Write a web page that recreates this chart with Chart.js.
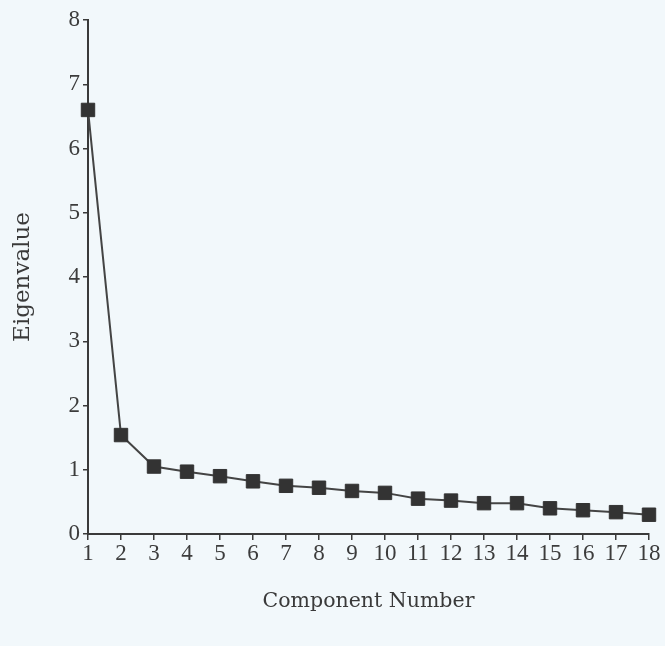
<!DOCTYPE html>
<html>
<head>
<meta charset="utf-8">
<script src="https://cdn.jsdelivr.net/npm/chart.js@4/dist/chart.umd.min.js"></script>
<style>
  html, body { margin: 0; padding: 0; background: #f2f8fb; }
  #wrap { width: 665px; height: 646px; }
</style>
</head>
<body>
<div id="wrap"><canvas id="c" width="665" height="646"></canvas></div>
<script>
const components = [1,2,3,4,5,6,7,8,9,10,11,12,13,14,15,16,17,18];
const eigenvalues = [6.6,1.54,1.05,0.97,0.9,0.82,0.75,0.72,0.67,0.64,0.55,0.52,0.48,0.48,0.4,0.37,0.34,0.3];
const yTicks = [0,1,2,3,4,5,6,7,8];
const xTitle = 'Component Number';
const yTitle = 'Eigenvalue';

const ink = '#3a3a3a';
const fontFam = '"Liberation Serif", "Times New Roman", serif';
const titleFam = '"DejaVu Serif", serif';

new Chart(document.getElementById('c'), {
  type: 'line',
  data: {
    datasets: [{
      data: components.map((c, i) => ({ x: c, y: eigenvalues[i] })),
      borderColor: '#444444',
      borderWidth: 2,
      pointStyle: 'rect',
      pointRadius: 9.5,
      pointBackgroundColor: '#333333',
      pointBorderColor: '#333333',
      pointBorderWidth: 1,
      tension: 0,
      clip: false
    }]
  },
  options: {
    responsive: false,
    animation: false,
    layout: { padding: { top: 20, right: 16, left: 0, bottom: 0 } },
    plugins: { legend: { display: false }, tooltip: { enabled: false } },
    scales: {
      x: {
        type: 'linear',
        min: 1, max: 18,
        afterBuildTicks: s => { s.ticks = components.map(v => ({ value: v })); },
        afterFit: s => { s.height = 112; },
        grid: { drawOnChartArea: false, tickLength: 6, color: ink, lineWidth: 1.5 },
        border: { color: ink, width: 2 },
        ticks: { color: '#3c3c3c', font: { family: fontFam, size: 23 }, padding: 0, maxRotation: 0, autoSkip: false },
        title: { display: true, text: xTitle, color: '#3a3a3a', font: { family: titleFam, size: 20.5 }, padding: { top: 0, bottom: 32 } }
      },
      y: {
        min: 0, max: 8,
        afterBuildTicks: s => { s.ticks = yTicks.map(v => ({ value: v })); },
        afterFit: s => { s.width = 88; },
        grid: { drawOnChartArea: false, tickLength: 5, color: ink, lineWidth: 1.5 },
        border: { color: ink, width: 2 },
        ticks: { color: '#3c3c3c', font: { family: fontFam, size: 23 }, padding: 3 },
        title: { display: true, text: yTitle, color: '#3a3a3a', font: { family: titleFam, size: 23 }, padding: { top: 9, bottom: 0 } }
      }
    }
  }
});
</script>
</body>
</html>
